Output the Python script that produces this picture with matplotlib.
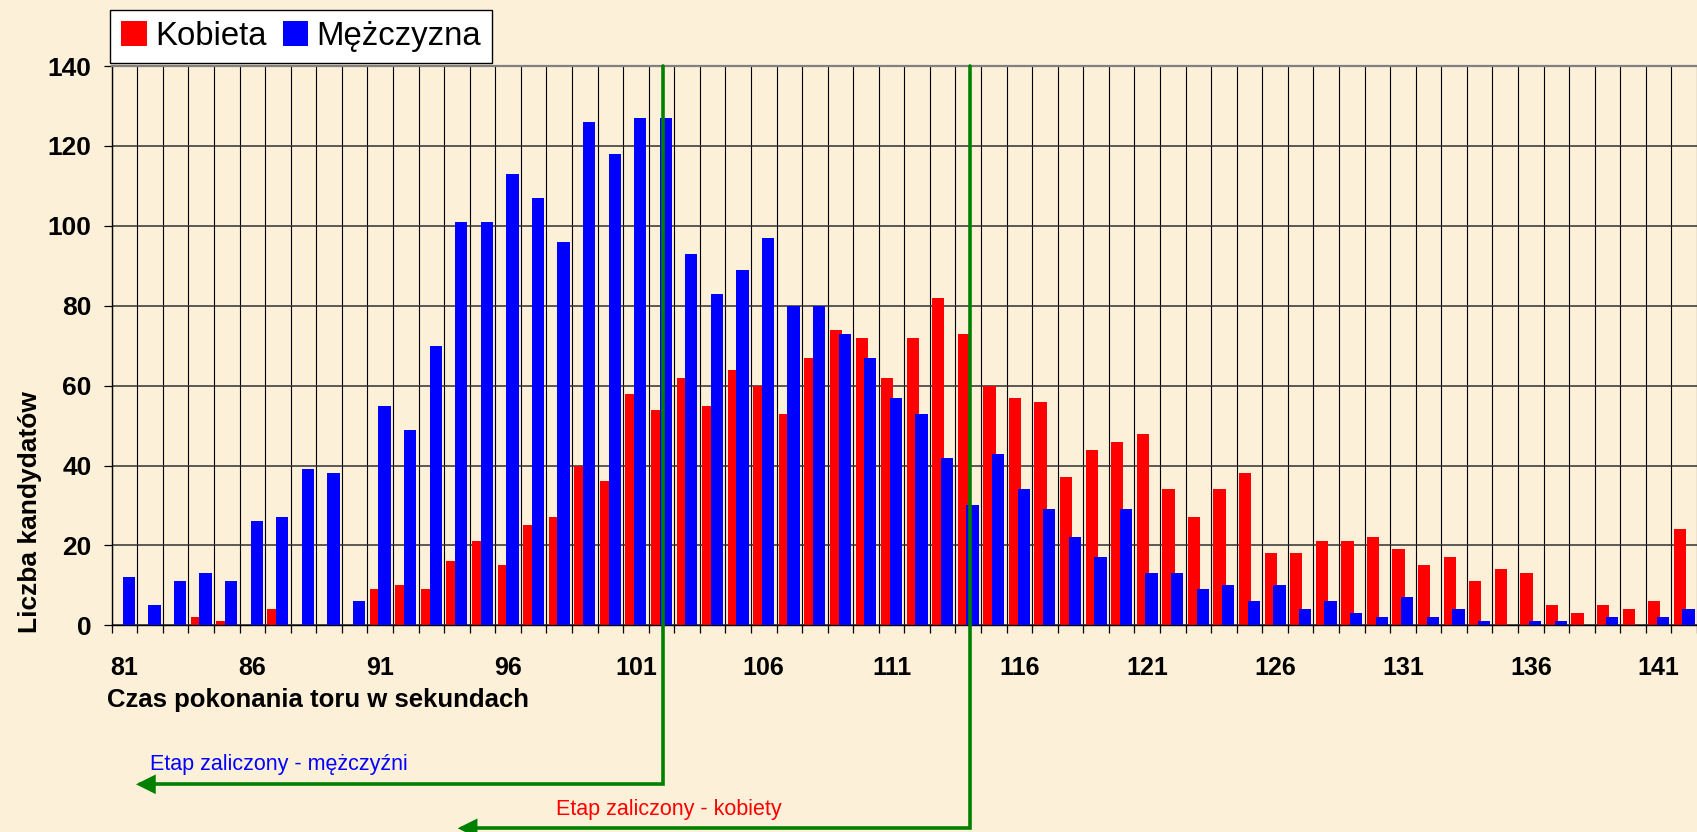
import matplotlib
matplotlib.use("Agg")
import matplotlib.pyplot as plt
from matplotlib.patches import Patch, FancyArrowPatch
from matplotlib.path import Path
import numpy as np

plt.rcParams['font.family'] = ['Liberation Sans', 'DejaVu Sans']

# ---------------- data ----------------
seconds = list(range(81, 143))
kobieta = [0, 0, 0, 2, 1, 0, 4, 0, 0, 0,
           9, 10, 9, 16, 21, 15, 25, 27, 40, 36,
           58, 54, 62, 55, 64, 60, 53, 67, 74, 72,
           62, 72, 82, 73, 60, 57, 56, 37, 44, 46,
           48, 34, 27, 34, 38, 18, 18, 21, 21, 22,
           19, 15, 17, 11, 14, 13, 5, 3, 5, 4,
           6, 24]
mezczyzna = [12, 5, 11, 13, 11, 26, 27, 39, 38, 6,
             55, 49, 70, 101, 101, 113, 107, 96, 126, 118,
             127, 127, 93, 83, 89, 97, 80, 80, 73, 67,
             57, 53, 42, 30, 43, 34, 29, 22, 17, 29,
             13, 13, 9, 10, 6, 10, 4, 6, 3, 2,
             7, 2, 4, 1, 0, 1, 1, 0, 2, 0,
             2, 4]
tick_labels = ['81', '86', '91', '96', '101', '106', '111', '116',
               '121', '126', '131', '136', '141']
series_names = ['Kobieta', 'Mężczyzna']
men_limit = 102.07     # seconds
women_limit = 114.08   # seconds
men_text = 'Etap zaliczony - mężczyźni'
women_text = 'Etap zaliczony - kobiety'

# ---------------- layout ----------------
W, H = 1697, 832
bg = '#FCF0D8'
green = '#008000'
fig = plt.figure(figsize=(W / 100, H / 100), dpi=100, facecolor=bg)

ax_left, ax_top, ax_bottom = 111.7, 66.0, 625.3
cat_w = 25.71
ax = fig.add_axes([ax_left / W, 1 - ax_bottom / H, 1 - ax_left / W,
                   (ax_bottom - ax_top) / H])
ax.set_facecolor('none')

x = np.arange(len(seconds))
bw = 0.48
ax.bar(x - 0.17, kobieta, width=bw, color='#FF0000', zorder=2, label=series_names[0])
ax.bar(x + 0.17, mezczyzna, width=bw, color='#0000FF', zorder=3, label=series_names[1])

ax.set_xlim(-0.5, -0.5 + (W - ax_left) / cat_w)
ax.set_ylim(0, 140)

# x ticks: labels at every 5th category, tick marks at category boundaries
lab_pos = [seconds.index(int(t)) for t in tick_labels]
ax.set_xticks(lab_pos)
ax.set_xticklabels(tick_labels, fontsize=18, fontweight='bold')
ax.set_xticks(np.arange(-0.5, len(seconds) + 0.5, 1), minor=True)
ax.tick_params(axis='x', which='major', length=0, pad=22)
ax.tick_params(axis='x', which='minor', length=6, width=0.9, direction='out', color='black')

ax.set_yticks(np.arange(0, 141, 20))
ax.set_yticklabels([str(v) for v in range(0, 141, 20)], fontsize=19, fontweight='bold')
ax.tick_params(axis='y', which='major', length=6, width=0.9, direction='out', pad=8.5)

ax.set_axisbelow(True)
ax.grid(True, which='minor', axis='x', color='black', lw=0.8, zorder=0)
ax.grid(False, which='major', axis='x')
ax.grid(True, which='major', axis='y', color='#303030', lw=1.1, zorder=0)

ax.spines['right'].set_visible(False)
ax.spines['top'].set_color('#808080')
ax.spines['top'].set_linewidth(1.6)
ax.spines['left'].set_color('black')
ax.spines['bottom'].set_color('black')
ax.spines['left'].set_linewidth(1.0)
ax.spines['bottom'].set_linewidth(1.0)

# axis titles
fig.text(106.7 / W, 1 - 700 / H, 'Czas pokonania toru w sekundach',
         ha='left', va='center', fontsize=18.5, fontweight='bold')
fig.text(30 / W, 1 - 512 / H, 'Liczba kandydatów', rotation=90,
         ha='center', va='center', fontsize=19, fontweight='bold')

# legend
handles = [Patch(facecolor='#FF0000', edgecolor='none'),
           Patch(facecolor='#0000FF', edgecolor='none')]
leg = ax.legend(handles, series_names, ncol=2, loc='upper left',
                bbox_to_anchor=(110 / W, 1 - 9.5 / H), bbox_transform=fig.transFigure,
                frameon=True, fancybox=False, edgecolor='black', facecolor='white',
                framealpha=1, fontsize=23.7, handlelength=0.78, handleheight=0.78,
                handletextpad=0.24, columnspacing=0.5, borderpad=0.34, borderaxespad=0)
leg.get_frame().set_linewidth(1.0)

# threshold arrows
def to_fig(px, py_from_top):
    return (px / W, 1 - py_from_top / H)

def sec_to_px(sec):
    idx = sec - seconds[0]
    disp = ax.transData.transform((idx, 0))
    return disp[0]

for sec, ybar, tip_x, txt, col, tx, ty in [
        (men_limit, 784.3, 136, men_text, '#0000FF', 150, 770),
        (women_limit, 828.3, 457.7, women_text, '#FF0000', 556, 815)]:
    xpx = sec_to_px(sec)
    verts = [to_fig(xpx, ax_top), to_fig(xpx, ybar), to_fig(tip_x, ybar)]
    path = Path(verts, [Path.MOVETO, Path.LINETO, Path.LINETO])
    arr = FancyArrowPatch(path=path, transform=fig.transFigure,
                          arrowstyle='-|>,head_length=10,head_width=5',
                          mutation_scale=1, color=green, lw=2.6,
                          shrinkA=0, shrinkB=0, joinstyle='miter', zorder=10)
    fig.add_artist(arr)
    fig.text(tx / W, 1 - ty / H, txt, color=col, fontsize=15.5,
             ha='left', va='baseline')

fig.savefig('out.png', dpi=100, facecolor=bg)
